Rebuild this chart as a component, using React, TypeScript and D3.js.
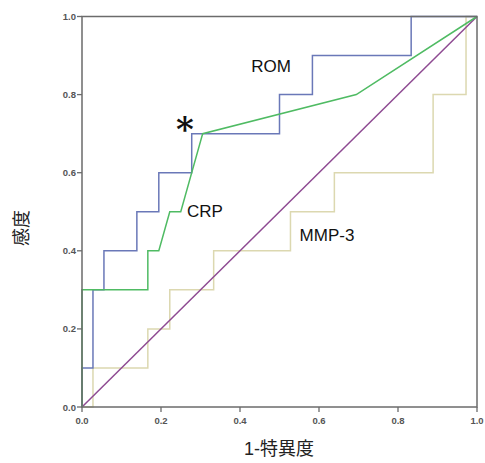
import React from 'react'
import * as d3 from 'd3'

// ROC step points as [1-specificity, sensitivity]
const romPoints: [number, number][] = [
  [0, 0], [0, 0.1], [1 / 36, 0.1], [1 / 36, 0.3], [2 / 36, 0.3], [2 / 36, 0.4],
  [5 / 36, 0.4], [5 / 36, 0.5], [7 / 36, 0.5], [7 / 36, 0.6], [10 / 36, 0.6],
  [10 / 36, 0.7], [18 / 36, 0.7], [18 / 36, 0.8], [21 / 36, 0.8], [21 / 36, 0.9],
  [30 / 36, 0.9], [30 / 36, 1], [1, 1],
]
const crpPoints: [number, number][] = [
  [0, 0], [0, 0.3], [6 / 36, 0.3], [6 / 36, 0.4], [7 / 36, 0.4], [8 / 36, 0.5],
  [9 / 36, 0.5], [11 / 36, 0.7], [25 / 36, 0.8], [1, 1],
]
const mmpPoints: [number, number][] = [
  [0, 0], [1 / 36, 0], [1 / 36, 0.1], [6 / 36, 0.1], [6 / 36, 0.2], [8 / 36, 0.2],
  [8 / 36, 0.3], [12 / 36, 0.3], [12 / 36, 0.4], [19 / 36, 0.4], [19 / 36, 0.5],
  [23 / 36, 0.5], [23 / 36, 0.6], [32 / 36, 0.6], [32 / 36, 0.8], [35 / 36, 0.8],
  [35 / 36, 1], [1, 1],
]
const refPoints: [number, number][] = [[0, 0], [1, 1]]
const ticks = [0, 0.2, 0.4, 0.6, 0.8, 1.0]

const W = 485
const H = 463
const margin = { left: 82, right: 8, top: 16.5, bottom: 56 }

export default function App() {
  const x = d3.scaleLinear().domain([0, 1]).range([margin.left, W - margin.right])
  const y = d3.scaleLinear().domain([0, 1]).range([H - margin.bottom, margin.top])
  const line = d3.line<[number, number]>().x(d => x(d[0])).y(d => y(d[1]))
  const font = 'Arial, "Liberation Sans", sans-serif'
  const axisColor = '#6b6b6b'

  return (
    <svg width={W} height={H} style={{ position: 'absolute', left: 0, top: 0 }}>
      <rect width={W} height={H} fill="#fff" />
      <path d={line(mmpPoints) || ''} fill="none" stroke="#dcd8b0" strokeWidth={1.5} />
      <path d={line(refPoints) || ''} fill="none" stroke="#8e4a92" strokeWidth={1.5} />
      <path d={line(romPoints) || ''} fill="none" stroke="#6a78b8" strokeWidth={1.5} />
      <path d={line(crpPoints) || ''} fill="none" stroke="#4fbb63" strokeWidth={1.5} />

      {/* frame */}
      <rect x={x(0)} y={y(1)} width={x(1) - x(0)} height={y(0) - y(1)}
        fill="none" stroke={axisColor} strokeWidth={1.5} />

      {ticks.map(t => (
        <g key={'x' + t}>
          <line x1={x(t)} x2={x(t)} y1={y(0)} y2={y(0) + 5} stroke={axisColor} strokeWidth={1.3} />
          <text x={x(t)} y={y(0) + 17} textAnchor="middle" fontSize={9.5} fontWeight="bold"
            fill="#555" fontFamily={font}>{t.toFixed(1)}</text>
        </g>
      ))}
      {ticks.map(t => (
        <g key={'y' + t}>
          <line x1={x(0) - 5} x2={x(0)} y1={y(t)} y2={y(t)} stroke={axisColor} strokeWidth={1.3} />
          <text x={x(0) - 6} y={y(t) + 3.5} textAnchor="end" fontSize={9.5} fontWeight="bold"
            fill="#555" fontFamily={font}>{t.toFixed(1)}</text>
        </g>
      ))}

      <text x={271} y={72} textAnchor="middle" fontSize={17} fill="#111" fontFamily={font}>ROM</text>
      <text x={205} y={217} textAnchor="middle" fontSize={17} fill="#111" fontFamily={font}>CRP</text>
      <text x={327} y={241} textAnchor="middle" fontSize={17} fill="#111" fontFamily={font}>MMP-3</text>
      <text x={185} y={141} textAnchor="middle" fontSize={34} fontWeight="bold" fill="#111"
        fontFamily='"DejaVu Serif", serif'>*</text>

      <text x={279} y={455} textAnchor="middle" fontSize={18} fill="#222"
        fontFamily='Arial, "Noto Sans CJK JP", sans-serif'>1-特異度</text>
      <text transform="translate(28,228) rotate(-90)" textAnchor="middle" fontSize={18} fill="#222"
        fontFamily='"Noto Sans CJK JP", sans-serif'>感度</text>
    </svg>
  )
}
